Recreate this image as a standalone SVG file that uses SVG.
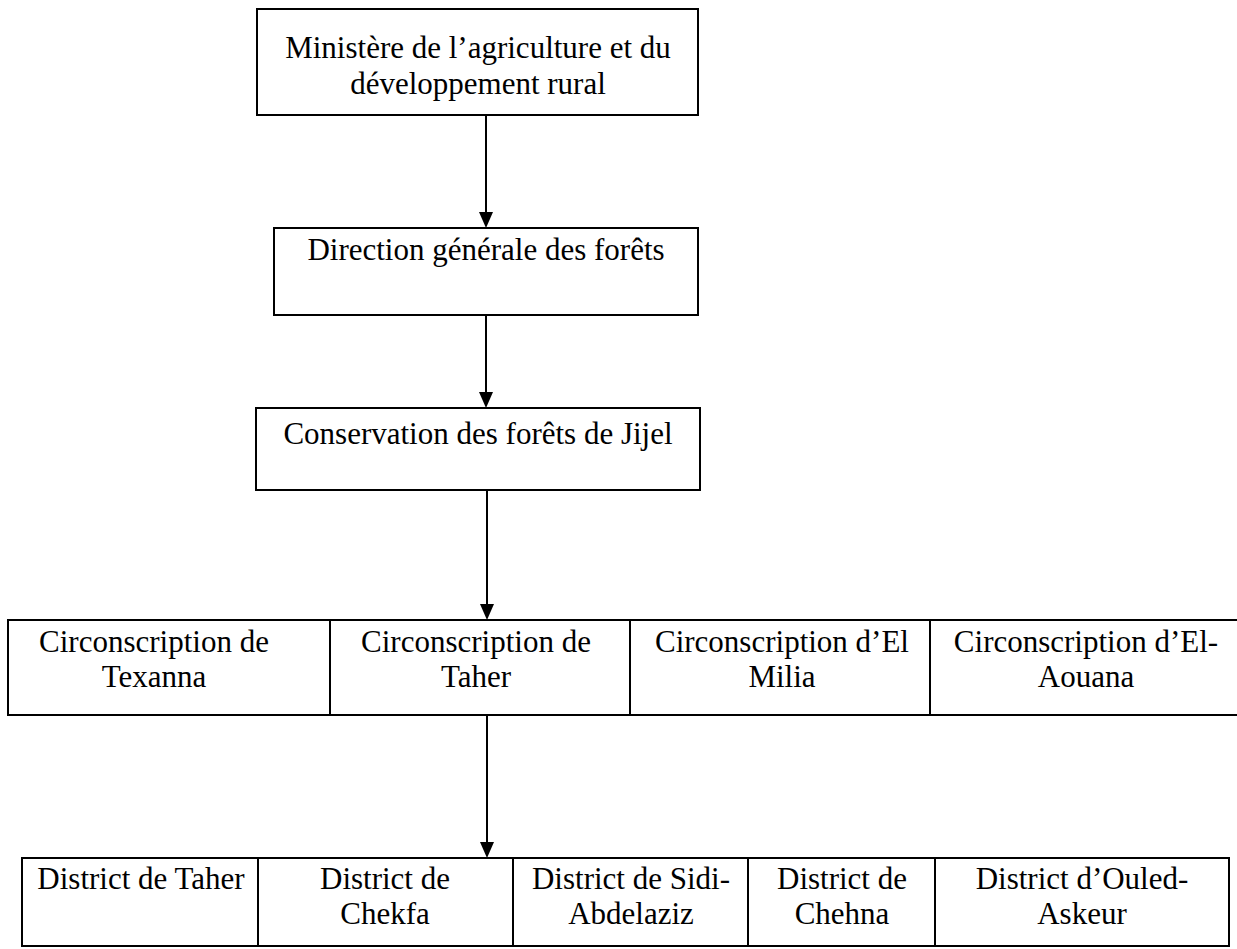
<svg xmlns="http://www.w3.org/2000/svg" width="1237" height="949" viewBox="0 0 1237 949">
<style>
.box{fill:#fff;stroke:#000;stroke-width:2}
.t{font-family:"Liberation Serif","Times New Roman",serif;font-size:31px;fill:#000;text-anchor:middle}
.c{stroke:#000;stroke-width:2;fill:none}
.ah{fill:#000}
</style>
<rect width="1237" height="949" fill="#fff"/>
<g id="connectors">
<line class="c" x1="486" y1="115" x2="486" y2="214"/>
<path class="ah" d="M479,212 L493,212 L486,228 Z"/>
<line class="c" x1="486" y1="315" x2="486" y2="394"/>
<path class="ah" d="M479,392 L493,392 L486,408 Z"/>
<line class="c" x1="487" y1="490" x2="487" y2="606"/>
<path class="ah" d="M480,604 L494,604 L487,620 Z"/>
<line class="c" x1="487" y1="715" x2="487" y2="844"/>
<path class="ah" d="M480,842 L494,842 L487,858 Z"/>
</g>
<g id="n1"><rect class="box" x="257" y="9" width="441" height="106"/>
<text class="t" x="478" y="58">Ministère de l’agriculture et du</text>
<text class="t" x="478" y="94">développement rural</text></g>
<g id="n2"><rect class="box" x="274" y="228" width="424" height="87"/>
<text class="t" x="486" y="260">Direction générale des forêts</text></g>
<g id="n3"><rect class="box" x="256" y="408" width="444" height="82"/>
<text class="t" x="478" y="444">Conservation des forêts de Jijel</text></g>
<g id="c1"><rect class="box" x="8" y="620" width="322" height="95"/>
<text class="t" x="154" y="652">Circonscription de</text>
<text class="t" x="154" y="687">Texanna</text></g>
<g id="c2"><rect class="box" x="330" y="620" width="300" height="95"/>
<text class="t" x="476" y="652">Circonscription de</text>
<text class="t" x="476" y="687">Taher</text></g>
<g id="c3"><rect class="box" x="630" y="620" width="300" height="95"/>
<text class="t" x="782" y="652">Circonscription d’El</text>
<text class="t" x="782" y="687">Milia</text></g>
<g id="c4"><rect class="box" x="930" y="620" width="312" height="95"/>
<text class="t" x="1086" y="652">Circonscription d’El-</text>
<text class="t" x="1086" y="687">Aouana</text></g>
<g id="d1"><rect class="box" x="22" y="858" width="236" height="88"/>
<text class="t" x="141" y="889">District de Taher</text></g>
<g id="d2"><rect class="box" x="258" y="858" width="255" height="88"/>
<text class="t" x="385" y="889">District de</text>
<text class="t" x="385" y="924">Chekfa</text></g>
<g id="d3"><rect class="box" x="513" y="858" width="235" height="88"/>
<text class="t" x="631" y="889">District de Sidi-</text>
<text class="t" x="631" y="924">Abdelaziz</text></g>
<g id="d4"><rect class="box" x="748" y="858" width="187" height="88"/>
<text class="t" x="842" y="889">District de</text>
<text class="t" x="842" y="924">Chehna</text></g>
<g id="d5"><rect class="box" x="935" y="858" width="294" height="88"/>
<text class="t" x="1082" y="889">District d’Ouled-</text>
<text class="t" x="1082" y="924">Askeur</text></g>
</svg>
